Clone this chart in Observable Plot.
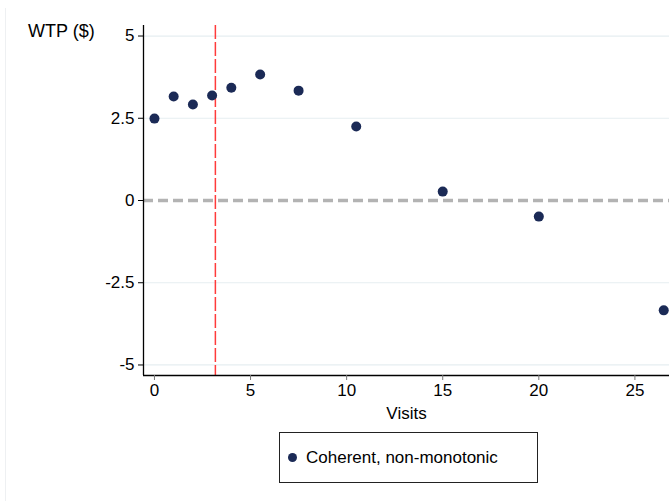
<!DOCTYPE html>
<html>
<head>
<meta charset="utf-8">
<script src="https://cdn.jsdelivr.net/npm/d3@7"></script>
<script src="https://cdn.jsdelivr.net/npm/@observablehq/plot@0.6"></script>
<style>
  html, body { margin: 0; padding: 0; background: #fff; }
  #wrap { position: relative; width: 669px; height: 501px; overflow: hidden;
          font-family: "Liberation Sans", Arial, sans-serif; }
  #frame { position: absolute; left: 5px; top: 8px; bottom: 0; border-left: 1px solid #eef0f2; }
  #ylab { position: absolute; left: 28px; top: 21px; font-size: 18px; color: #000; }
  #legend { position: absolute; left: 279px; top: 432px; width: 259px; height: 51px;
            border: 1px solid #222; box-sizing: border-box; display: flex; align-items: center;
            font-size: 17px; color: #000; }
  #legend .sw { width: 9px; height: 9px; border-radius: 50%; margin-left: 8px; margin-right: 9px; }
</style>
</head>
<body>
<div id="wrap">
  <div id="frame"></div>
  <div id="chart"></div>
  <div id="ylab">WTP ($)</div>
  <div id="legend"><span class="sw"></span><span class="lt"></span></div>
</div>
<script>
// Average willingness to pay by number of visits
const visits = [0, 1, 2, 3, 4, 5.5, 7.5, 10.5, 15, 20, 26.5];
const wtp = [2.49, 3.16, 2.92, 3.19, 3.43, 3.83, 3.34, 2.25, 0.27, -0.49, -3.34];
const yTicks = [-5, -2.5, 0, 2.5, 5];
const xTicks = [0, 5, 10, 15, 20, 25];
const cutoff = [3.17];
const seriesName = "Coherent, non-monotonic";
const dotColor = "#1b2a56";

const data = visits.map((v, i) => ({visits: v, wtp: wtp[i]}));
const xDomain = [-0.57, 26.8];
const yDomain = [-5.32, 5.32];

const chart = Plot.plot({
  width: 669,
  height: 501,
  marginLeft: 143,
  marginRight: 0,
  marginTop: 25,
  marginBottom: 126,
  style: {fontFamily: "Liberation Sans, Arial, sans-serif", fontSize: "17px", color: "#000", background: "transparent"},
  x: {domain: xDomain},
  y: {domain: yDomain},
  marks: [
    Plot.ruleY(yTicks.filter(d => d !== 0), {stroke: "#e6eef1", strokeWidth: 1.2}),
    Plot.ruleY([0], {stroke: "#b3b3b3", strokeWidth: 3.5, strokeDasharray: "10,5"}),
    Plot.ruleX(cutoff, {stroke: "#ff3b3b", strokeWidth: 1.5, strokeDasharray: "14,3"}),
    Plot.ruleX([xDomain[0]], {stroke: "#000", strokeWidth: 1.3}),
    Plot.ruleY([yDomain[0]], {stroke: "#000", strokeWidth: 1.3}),
    Plot.axisY({ticks: yTicks, tickFormat: d => String(d), tickSize: 5, tickPadding: 4, stroke: "#000", label: null, fontSize: 17}),
    Plot.axisX({ticks: xTicks, tickSize: 5, tickPadding: 3, stroke: "#777", label: "Visits", labelAnchor: "center", labelArrow: "none", labelOffset: 43, fontSize: 17}),
    Plot.dot(data, {x: "visits", y: "wtp", r: 5, fill: dotColor, stroke: "none"})
  ]
});
document.getElementById("chart").appendChild(chart);
document.querySelector("#legend .sw").style.background = dotColor;
document.querySelector("#legend .lt").textContent = seriesName;
</script>
</body>
</html>
